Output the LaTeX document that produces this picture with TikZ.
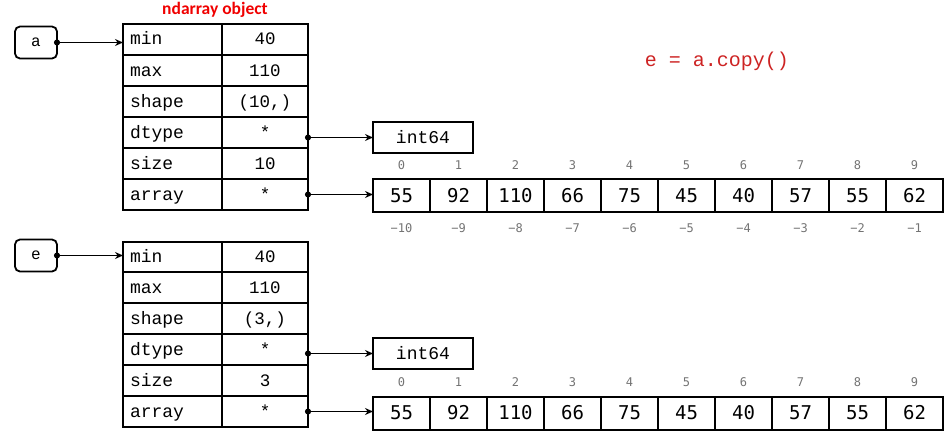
\documentclass[tikz,border=0pt]{standalone}
\usepackage{fontspec}
\setmainfont{Liberation Serif}
\setmonofont{Liberation Mono}
\newfontfamily\titlefont{Carlito}
\newfontfamily\numfont{DejaVu Sans Mono}
\usetikzlibrary{arrows.meta,calc}
\definecolor{titlered}{RGB}{240,0,0}
\definecolor{codered}{RGB}{205,35,35}
\definecolor{idxgray}{RGB}{115,115,115}
\tikzset{
  keycell/.style={draw, line width=2pt, text width=85pt, inner xsep=7pt, inner ysep=0pt, outer sep=0pt,
    align=left, text height=11pt, text depth=0pt, font=\ttfamily\fontsize{18}{18}\selectfont, anchor=north west},
  valcell/.style={draw, line width=2pt, minimum width=86pt, inner sep=0pt, outer sep=0pt,
    text height=11pt, text depth=0pt, font=\ttfamily\fontsize{17.5}{17.5}\selectfont, anchor=north west},
  arrcell/.style={draw, line width=2pt, minimum width=57pt, minimum height=33pt, inner sep=0pt, outer sep=0pt,
    text height=13.5pt, text depth=0pt, font=\numfont\fontsize{19}{19}\selectfont, anchor=north west},
  typebox/.style={draw, line width=2pt, minimum width=100pt, minimum height=31pt, inner sep=0pt, outer sep=0pt,
    text height=11pt, text depth=0pt, font=\ttfamily\fontsize{18}{18}\selectfont},
  varbox/.style={draw, line width=1.8pt, rounded corners=5pt, minimum width=42pt, minimum height=32pt, inner sep=0pt,
    outer sep=0pt, font=\ttfamily\fontsize{16}{16}\selectfont},
  idx/.style={font=\numfont\fontsize{12}{12}\selectfont, text=idxgray, inner sep=0pt},
  ptr/.style={line width=1.8pt, {Circle[length=6pt]}-{Stealth[length=8pt,width=7pt]}, shorten <=-3pt},
}
\begin{document}
\begin{tikzpicture}[x=1pt,y=-1pt]
\useasboundingbox (0,0) rectangle (951,431);

% title and code
\node[font=\titlefont\bfseries\fontsize{17.5}{17.5}\selectfont, text=titlered, inner sep=0pt] (title) at (215,10) {ndarray object};
\node[font=\ttfamily\fontsize{20}{20}\selectfont, text=codered, inner sep=0pt] (code) at (717,61) {e = a.copy()};

% ---------- object a ----------
\node[varbox] (va) at (36,42.5) {a};
\foreach \k/\v [count=\i from 0] in {min/40, max/110, shape/{(10,)}, dtype/*, size/10, array/*} {
  \node[keycell, minimum height=31pt] (ak\i) at (123,{24+31*\i}) {\k};
  \node[valcell, minimum height=31pt] (av\i) at (222,{24+31*\i}) {\v};
}
\node[typebox] (ati) at (423,137.5) {int64};
\foreach \v [count=\i from 0] in {55,92,110,66,75,45,40,57,55,62} {
  \pgfmathtruncatemacro\m{10-\i}
  \node[arrcell] (aa\i) at ({373+57*\i},179) {\v};
  \node[idx] (aup\i) at ({401.5+57*\i},165) {\i};
  \node[idx] (adn\i) at ({401.5+57*\i},228) {−\m};
}
\draw[ptr] (va.east) -- (ak0.west |- va.east);
\draw[ptr] (av3.east |- ati.west) -- (ati.west);
\draw[ptr] (av5.east) -- (aa0.west |- av5.east);

% ---------- object e ----------
\node[varbox] (ve) at (36,255.5) {e};
\foreach \k/\v/\t/\h [count=\i from 0] in {min/40/242/30, max/110/272/31, shape/{(3,)}/303/31, dtype/*/334/31, size/3/365/31, array/*/396/31} {
  \node[keycell, minimum height=\h pt] (ek\i) at (123,\t) {\k};
  \node[valcell, minimum height=\h pt] (ev\i) at (222,\t) {\v};
}
\node[typebox] (eti) at (423,353.5) {int64};
\foreach \v [count=\i from 0] in {55,92,110,66,75,45,40,57,55,62} {
  \node[arrcell] (ea\i) at ({373+57*\i},396.5) {\v};
  \node[idx] (eup\i) at ({401.5+57*\i},382) {\i};
}
\draw[ptr] (ve.east) -- (ek0.west |- ve.east);
\draw[ptr] (ev3.east |- eti.west) -- (eti.west);
\draw[ptr] (ev5.east) -- (ea0.west |- ev5.east);
\end{tikzpicture}
\end{document}
